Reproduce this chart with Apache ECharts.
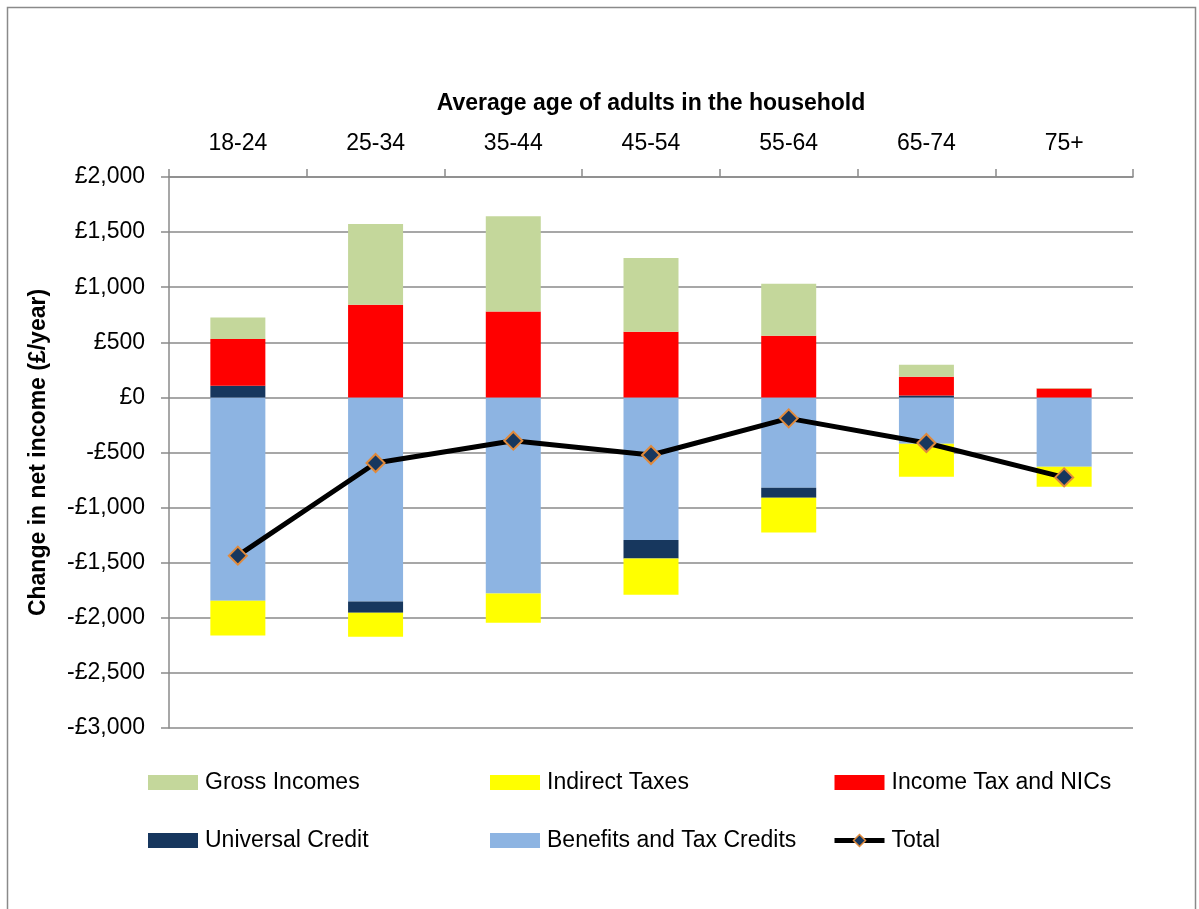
<!DOCTYPE html>
<html>
<head>
<meta charset="utf-8">
<script src="https://cdn.jsdelivr.net/npm/echarts@6/dist/echarts.min.js"></script>
<style>
html,body{margin:0;padding:0;background:#fff;}
#chart{width:1199px;height:909px;}
</style>
</head>
<body>
<div id="chart"></div>
<script>
const categories = ['18-24','25-34','35-44','45-54','55-64','65-74','75+'];
const grossIncomes = [195, 732, 863, 669, 472, 109, 5];
const indirectTaxes = [-315, -218, -266, -329, -315, -300, -181];
const incomeTaxNICs = [425, 841, 780, 596, 560, 170, 80];
const universalCredit = [106, -103, 0, -167, -91, 18, 0];
const benefitsTaxCredits = [-1845, -1851, -1779, -1294, -819, -420, -629];
const total = [-1436, -595, -393, -523, -190, -414, -726];
const yTicks = {min: -3000, max: 2000, interval: 500};

const FONT = '"Liberation Sans", Arial, sans-serif';
const FS = 23;
const GRAY = '#8a8a8a';

function fmt(v){
  const s = Math.abs(v).toString().replace(/\B(?=(\d{3})+(?!\d))/g, ',');
  return (v < 0 ? '-' : '') + '£' + s;
}

const chart = echarts.init(document.getElementById('chart'));
const barW = 55;
function bar(name, data, color){
  return {name, type:'bar', stack:'total', data, barWidth:barW,
    itemStyle:{color}, emphasis:{disabled:true}, z:2};
}
const legendBase = {
  orient:'vertical', itemWidth:50, itemHeight:15, itemGap:35, padding:0,
  textStyle:{fontFamily:FONT, fontSize:FS, color:'#000', lineHeight:23, padding:[0,0,0,2]},
  selectedMode:false
};
chart.setOption({
  animation:false,
  textStyle:{fontFamily:FONT},
  grid:{left:169, right:66, top:177, bottom:181},
  graphic:[{type:'rect', shape:{x:7.5, y:7.5, width:1188, height:930},
    style:{fill:'none', stroke:'#8a8a8a', lineWidth:1.5}, silent:true}],
  legend:[
    Object.assign({}, legendBase, {left:148, top:771, data:[{name:'Gross Incomes', icon:'rect'},{name:'Universal Credit', icon:'rect'}]}),
    Object.assign({}, legendBase, {left:490, top:771, data:[{name:'Indirect Taxes', icon:'rect'},{name:'Benefits and Tax Credits', icon:'rect'}]}),
    Object.assign({}, legendBase, {left:832, top:771, data:[{name:'Income Tax and NICs', icon:'rect'},
      {name:'Total', lineStyle:{width:5, color:'#000'}, itemStyle:{color:'#17375E', borderColor:'#E08A3C', borderWidth:1.5}}]})
  ],
  xAxis:{
    type:'category', data:categories, position:'top',
    name:'Average age of adults in the household', nameLocation:'middle', nameGap:62,
    nameTextStyle:{fontFamily:FONT, fontSize:FS, fontWeight:'bold', color:'#000'},
    axisLine:{onZero:false, lineStyle:{color:GRAY, width:1.5}},
    axisTick:{show:true, length:8, lineStyle:{color:GRAY, width:1.5}},
    axisLabel:{fontFamily:FONT, fontSize:FS, color:'#000', margin:22},
    splitLine:{show:false}
  },
  yAxis:{
    type:'value', min:yTicks.min, max:yTicks.max, interval:yTicks.interval,
    name:'Change in net income (£/year)', nameLocation:'middle', nameGap:119, nameRotate:90,
    nameTextStyle:{fontFamily:FONT, fontSize:FS, fontWeight:'bold', color:'#000'},
    axisLine:{show:true, lineStyle:{color:GRAY, width:1.5}},
    axisTick:{show:true, length:8, lineStyle:{color:GRAY, width:1.5}},
    axisLabel:{fontFamily:FONT, fontSize:FS, color:'#000', margin:24, formatter:fmt},
    splitLine:{show:true, lineStyle:{color:GRAY, width:1.5}}
  },
  series:[
    bar('Benefits and Tax Credits', benefitsTaxCredits, '#8DB4E2'),
    bar('Universal Credit', universalCredit, '#17375E'),
    bar('Income Tax and NICs', incomeTaxNICs, '#FF0000'),
    bar('Gross Incomes', grossIncomes, '#C4D79B'),
    bar('Indirect Taxes', indirectTaxes, '#FFFF00'),
    {name:'Total', type:'line', data:total, z:5,
     symbol:'diamond', symbolSize:18,
     lineStyle:{color:'#000', width:5},
     itemStyle:{color:'#17375E', borderColor:'#E08A3C', borderWidth:2},
     emphasis:{disabled:true}}
  ]
});
</script>
</body>
</html>
